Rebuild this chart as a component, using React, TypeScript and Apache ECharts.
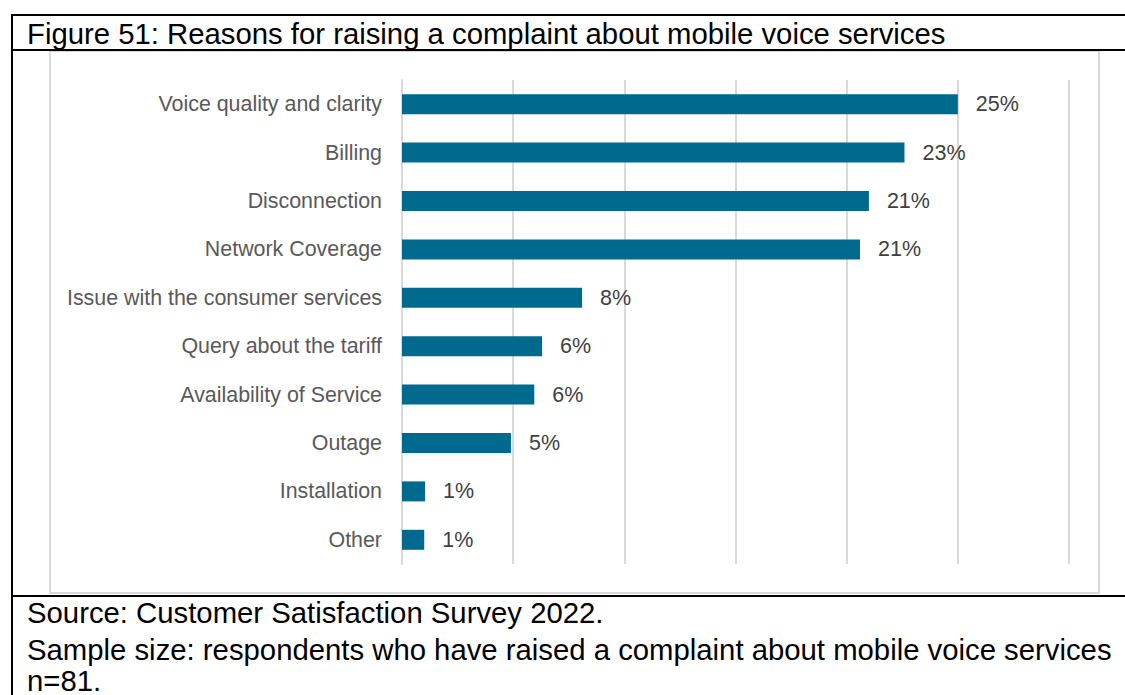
import React, { useEffect, useRef } from "react";
import * as echarts from "echarts";

const TITLE = "Figure 51: Reasons for raising a complaint about mobile voice services";
const categories = [
  "Voice quality and clarity",
  "Billing",
  "Disconnection",
  "Network Coverage",
  "Issue with the consumer services",
  "Query about the tariff",
  "Availability of Service",
  "Outage",
  "Installation",
  "Other",
];
const values = [25.0, 22.6, 21.0, 20.6, 8.1, 6.3, 5.95, 4.9, 1.04, 1.0];
const sourceLines = [
  "Source: Customer Satisfaction Survey 2022.",
  "Sample size: respondents who have raised a complaint about mobile voice services",
  "n=81.",
];

const FONT = "Liberation Sans, Arial, sans-serif";

export default function App() {
  const ref = useRef<HTMLDivElement>(null);
  useEffect(() => {
    const chart = echarts.init(ref.current!, null, { renderer: "svg" });
    chart.setOption({
      animation: false,
      backgroundColor: "#ffffff",
      textStyle: { fontFamily: FONT },
      grid: { left: 402, right: 56, top: 80, bottom: 131 },
      xAxis: {
        type: "value",
        min: 0,
        max: 30,
        interval: 5,
        axisLabel: { show: false },
        axisLine: { show: false },
        axisTick: { show: false },
        splitLine: { lineStyle: { color: "#d9d9d9", width: 2 } },
      },
      yAxis: {
        type: "category",
        data: categories,
        inverse: true,
        axisLine: { lineStyle: { color: "#d9d9d9", width: 2 } },
        axisTick: { length: 5, lineStyle: { color: "#d9d9d9", width: 2 } },
        axisLabel: { color: "#595959", fontSize: 21.4, fontFamily: FONT, margin: 20 },
      },
      series: [
        {
          type: "bar",
          data: values,
          barWidth: 20,
          itemStyle: { color: "#006a8e" },
          label: {
            show: true,
            position: "right",
            distance: 18,
            color: "#404040",
            fontSize: 21.5,
            fontFamily: FONT,
            formatter: (p: any) => Math.round(p.value) + "%",
          },
        },
      ],
      graphic: [
        {
          type: "rect",
          z: -1,
          shape: { x: 50, y: 51, width: 1049, height: 542 },
          style: { fill: "none", stroke: "#d9d9d9", lineWidth: 2 },
        },
        { type: "line", shape: { x1: 11, y1: 15, x2: 1125, y2: 15 }, style: { stroke: "#000", lineWidth: 2 } },
        { type: "line", shape: { x1: 11, y1: 50, x2: 1125, y2: 50 }, style: { stroke: "#000", lineWidth: 2 } },
        { type: "line", shape: { x1: 11, y1: 596, x2: 1125, y2: 596 }, style: { stroke: "#000", lineWidth: 2 } },
        { type: "line", shape: { x1: 12, y1: 14, x2: 12, y2: 695 }, style: { stroke: "#000", lineWidth: 2 } },
        {
          type: "text",
          x: 27,
          y: 33,
          style: { text: TITLE, font: `29.3px ${FONT}`, fill: "#000", textVerticalAlign: "middle" },
        },
        ...sourceLines.map((t, i) => ({
          type: "text",
          x: 27,
          y: [612, 649, 680][i],
          style: { text: t, font: `29.3px ${FONT}`, fill: "#000", textVerticalAlign: "middle" },
        })),
      ],
    });
    return () => chart.dispose();
  }, []);
  return (
    <div
      ref={ref}
      style={{ position: "absolute", left: 0, top: 0, width: 1125, height: 695 }}
    />
  );
}
